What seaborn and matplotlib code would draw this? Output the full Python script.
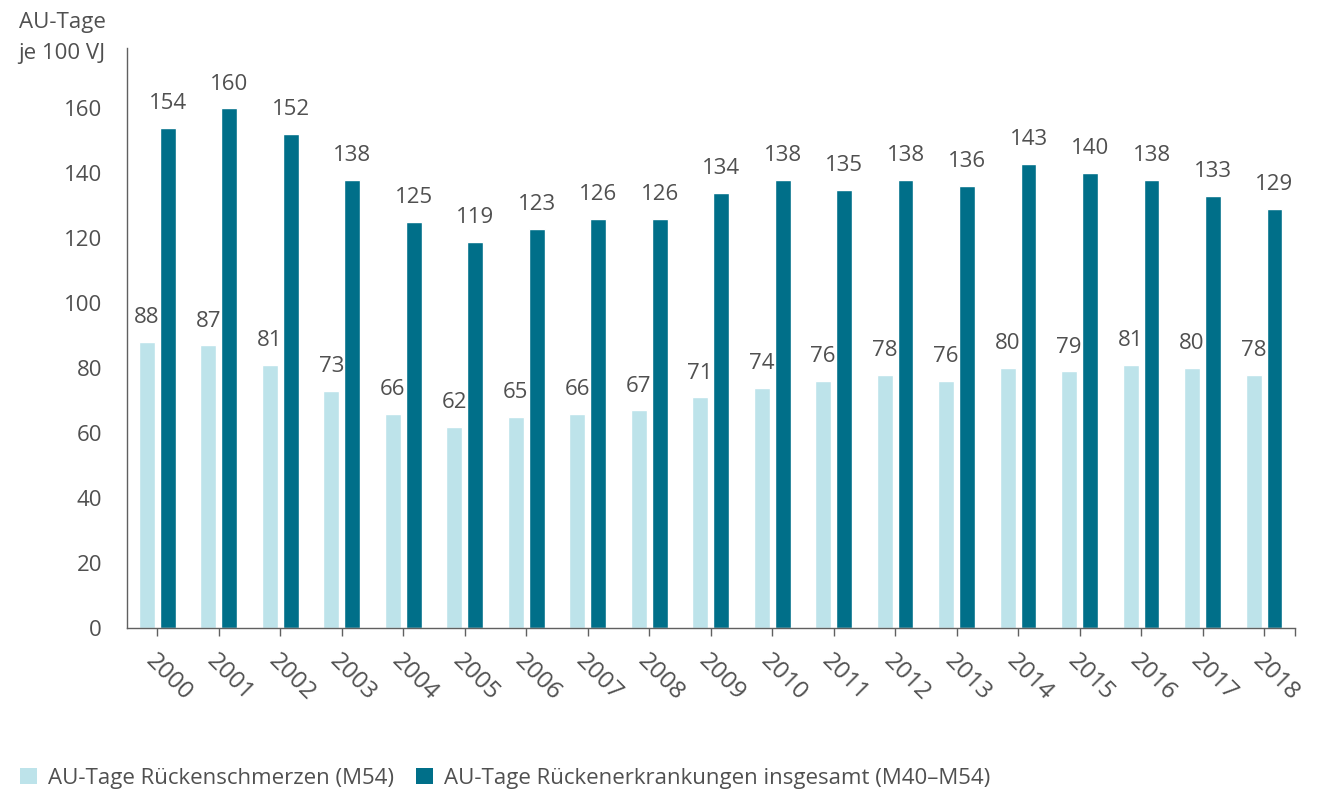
import pandas as pd
import matplotlib.pyplot as plt
import seaborn as sns
from matplotlib.patches import Patch

years = [str(y) for y in range(2000, 2019)]
rueckenschmerzen = [88, 87, 81, 73, 66, 62, 65, 66, 67, 71, 74, 76, 78, 76, 80, 79, 81, 80, 78]
insgesamt = [154, 160, 152, 138, 125, 119, 123, 126, 126, 134, 138, 135, 138, 136, 143, 140, 138, 133, 129]
series_names = [
    "AU-Tage Rückenschmerzen (M54)",
    "AU-Tage Rückenerkrankungen insgesamt (M40–M54)",
]
colors = ["#bde3ea", "#006f89"]
yticks = [0, 20, 40, 60, 80, 100, 120, 140, 160]

TEXT = "#505050"
FS = 16


def build_frame() -> pd.DataFrame:
    """Long format table for seaborn."""
    df_a = pd.DataFrame({"year": years, "value": rueckenschmerzen, "series": series_names[0]})
    df_b = pd.DataFrame({"year": years, "value": insgesamt, "series": series_names[1]})
    return pd.concat([df_a, df_b], ignore_index=True)


def setup_style():
    sns.set_theme(style="white")
    plt.rcParams["font.family"] = ["Open Sans", "DejaVu Sans"]


def draw(df: pd.DataFrame):
    fig = plt.figure(figsize=(13.18, 7.92), dpi=100)
    ax = fig.add_axes([0.0964, 0.207, 0.886, 0.732])
    sns.barplot(
        data=df, x="year", y="value", hue="series", palette=colors,
        width=0.68, gap=0.24, saturation=1, legend=False, ax=ax,
    )

    # value labels above the bars
    for container in ax.containers:
        ax.bar_label(container, fmt="%d", padding=10, fontsize=FS, color=TEXT)

    ax.set_xlim(-0.49, 18.5)
    ax.set_ylim(0, 178.5)
    ax.set_yticks(yticks)
    ax.set_xlabel("")
    ax.set_ylabel("")

    for side in ["top", "right"]:
        ax.spines[side].set_visible(False)
    for side in ["left", "bottom"]:
        ax.spines[side].set_color("#606060")
        ax.spines[side].set_linewidth(1.0)

    ax.tick_params(axis="y", direction="in", length=7, width=1, colors="#606060",
                   labelcolor=TEXT, labelsize=FS, pad=18)
    ax.tick_params(axis="x", direction="out", length=6, width=1, colors="#606060",
                   labelcolor=TEXT, labelsize=17.5, pad=9, bottom=True)
    ax.set_xticks([18.5], minor=True)
    ax.tick_params(axis="x", which="minor", direction="out", length=6, width=1,
                   colors="#606060", bottom=True)
    plt.setp(ax.get_xticklabels(), rotation=-45, ha="left", rotation_mode="anchor")

    fig.text(0.080, 0.972, "AU-Tage", ha="right", va="center", fontsize=FS, color=TEXT)
    fig.text(0.080, 0.932, "je 100 VJ", ha="right", va="center", fontsize=FS, color=TEXT)

    handles = [Patch(facecolor=c, edgecolor="none") for c in colors]
    fig.legend(
        handles, series_names, loc="center left", bbox_to_anchor=(0.0, 0.017),
        ncol=2, frameon=False, fontsize=FS, handlelength=0.75, handleheight=0.75,
        handletextpad=0.5, columnspacing=1.0, labelcolor=TEXT,
    )
    return fig


def main():
    setup_style()
    df = build_frame()
    fig = draw(df)
    fig.savefig("out.png", dpi=100)


if __name__ == "__main__":
    main()
